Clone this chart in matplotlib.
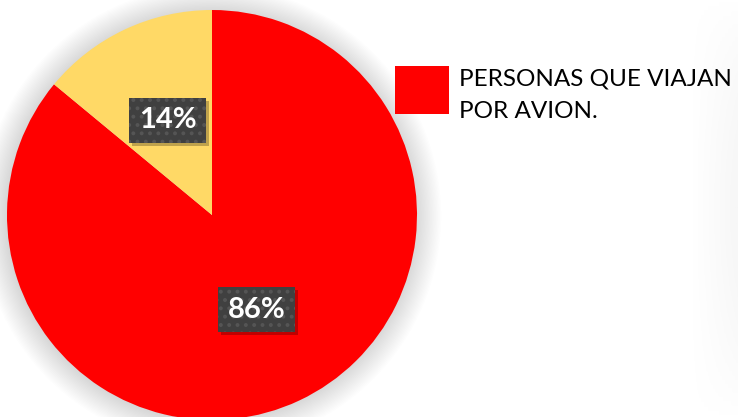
import numpy as np
import matplotlib.pyplot as plt
from matplotlib.patches import Circle, Rectangle

# datos
valores = [86, 14]
etiquetas = ["PERSONAS QUE VIAJAN\nPOR AVION.", "OTROS"]
colores = ["#FF0000", "#FFD966"]

plt.rcParams['font.family'] = ['Lato', 'DejaVu Sans']
plt.rcParams['hatch.color'] = '#555555'
plt.rcParams['hatch.linewidth'] = 1.6

fig = plt.figure(figsize=(7.38, 4.17), dpi=100)

# sombra tenue a la derecha (otro elemento fuera del cuadro)
axg = fig.add_axes([690 / 738, 0, 48 / 738, 1])
xx, yy = np.meshgrid(np.linspace(0, 1, 60), np.linspace(0, 1, 100))
axg.imshow(0.07 * xx * np.sin(np.pi * yy) ** 0.7, cmap='Greys', vmin=0, vmax=1,
           aspect='auto', extent=[0, 1, 0, 1])
axg.axis('off')

# radio del pastel = 205 px, centro en (212, 215) desde arriba
radio_px = 205
lim = 1.2
ancho = 2 * lim * radio_px
ax = fig.add_axes([(212 - ancho / 2) / 738, (202 - ancho / 2) / 417, ancho / 738, ancho / 417])
ax.set_xlim(-lim, lim)
ax.set_ylim(-lim, lim)
ax.set_aspect('equal')
ax.axis('off')

# sombra difusa alrededor del pastel
for i in range(20):
    ax.add_patch(Circle((-0.005, -0.005), 1.0 + 0.0065 * i, color='black', alpha=0.007, lw=0, zorder=0))

wedges, textos, autotextos = ax.pie(
    valores, colors=colores, startangle=90, counterclock=False,
    autopct='%1.0f%%', pctdistance=0.51, radius=1,
    wedgeprops={'linewidth': 0}, frame=False,
    textprops={'color': 'white', 'fontsize': 21, 'fontweight': 'bold'})
ax.set_xlim(-lim, lim)
ax.set_ylim(-lim, lim)

for t in autotextos:
    t.set_bbox(dict(boxstyle='square,pad=0.33', facecolor='#404040', edgecolor='#555555',
                    linewidth=0, hatch='..'))

# sombra de las cajas de porcentaje
fig.canvas.draw()
for t in autotextos:
    bb = t.get_bbox_patch().get_window_extent()
    ax.add_patch(Rectangle((bb.x0 + 3, bb.y0 - 3), bb.width, bb.height, transform=None,
                           facecolor='black', alpha=0.25, lw=0, zorder=t.get_zorder() - 0.1))

# leyenda (solo la serie roja)
fig.patches.append(Rectangle((395 / 738, 1 - 114 / 417), 54 / 738, 48 / 417,
                             transform=fig.transFigure, facecolor=colores[0], lw=0))
fig.text(459 / 738, 1 - 118 / 417, etiquetas[0], ha='left', va='baseline',
         fontsize=17.5, color='black', linespacing=1.65)

fig.savefig('out.png', dpi=100)
